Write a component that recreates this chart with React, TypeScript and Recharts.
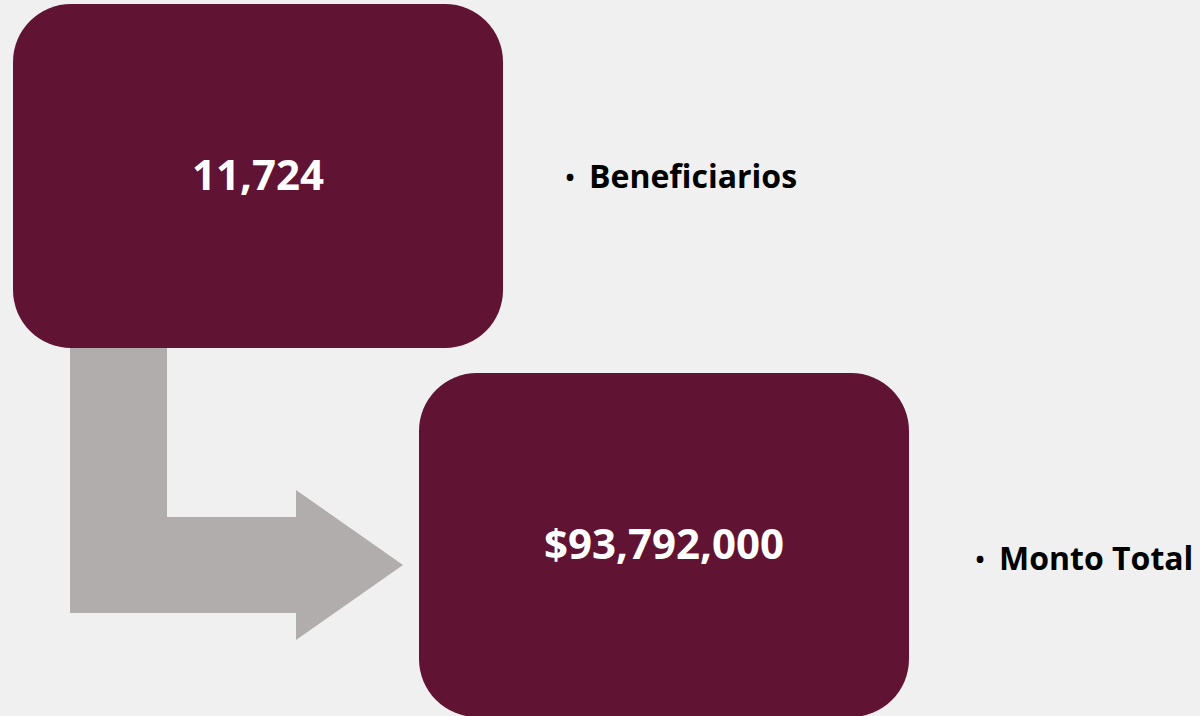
import React from "react";
import { ScatterChart, Scatter, XAxis, YAxis } from "recharts";

// ---- data ----
const labels = ["Beneficiarios", "Monto Total"];
const values = [11724, 93792000];
const prefixes = ["", "$"];
const columns = [0, 1];
const rows = [0, 1];

const data = labels.map((label, i) => ({
  label,
  value: values[i],
  prefix: prefixes[i],
  col: columns[i],
  row: rows[i],
}));

// ---- layout / style ----
const W = 1200;
const H = 716;
const BOX_W = 490;
const BOX_H = 344;
const BOX_R = 58;
const BOX_FILL = "#611333";
const ARROW_FILL = "#b0adac";
const BG = "#eff0ef";
const LABEL_GAP = [67, 71];
const LABEL_DY = [0, 13];
const FONT = "'Open Sans', 'Noto Sans', sans-serif";

const X_DOMAIN: [number, number] = [-0.6355, 2.3202];
const Y_DOMAIN: [number, number] = [-0.477, 1.4634];

const BoxShape = (props: any) => {
  const { cx, cy, payload, index } = props;
  const i = index ?? 0;
  const text = payload.prefix + payload.value.toLocaleString("en-US");
  const left = cx - BOX_W / 2;
  const top = cy - BOX_H / 2;
  const lx = cx + BOX_W / 2 + LABEL_GAP[i];
  const ly = cy + LABEL_DY[i];
  return (
    <g>
      <rect x={left} y={top} width={BOX_W} height={BOX_H} rx={BOX_R} ry={BOX_R} fill={BOX_FILL} />
      <text
        x={cx}
        y={cy - 3}
        textAnchor="middle"
        dominantBaseline="central"
        fill="#ffffff"
        fontFamily={FONT}
        fontWeight={700}
        fontSize={42}
      >
        {text}
      </text>
      <text x={lx} y={ly} textAnchor="middle" dominantBaseline="central" fill="#000" fontFamily={FONT} fontWeight={700} fontSize={24}>
        •
      </text>
      <text x={lx + 19} y={ly - 1} dominantBaseline="central" fill="#000" fontFamily={FONT} fontWeight={700} fontSize={32}>
        {payload.label}
      </text>
    </g>
  );
};

// connector arrow, anchored to the second box
const ArrowShape = (props: any) => {
  const { cx, cy, index } = props;
  if (index !== 1) return <g />;
  const boxLeft = cx - BOX_W / 2;
  const tipX = boxLeft - 16;
  const tipY = cy + 20;
  const headLen = 107;
  const headHalf = 75;
  const shaftHalf = 48;
  const baseX = tipX - headLen;
  const vLeft = tipX - 333;
  const vRight = vLeft + 97;
  const vTop = cy - 199;
  const d = [
    `M${vLeft},${vTop}`,
    `L${vRight},${vTop}`,
    `L${vRight},${tipY - shaftHalf}`,
    `L${baseX},${tipY - shaftHalf}`,
    `L${baseX},${tipY - headHalf}`,
    `L${tipX},${tipY}`,
    `L${baseX},${tipY + headHalf}`,
    `L${baseX},${tipY + shaftHalf}`,
    `L${vLeft},${tipY + shaftHalf}`,
    "Z",
  ].join(" ");
  return <path d={d} fill={ARROW_FILL} />;
};

export default function App() {
  return (
    <div style={{ position: "fixed", left: 0, top: 0, width: W, height: H, background: BG, overflow: "hidden" }}>
      <ScatterChart width={W} height={H} margin={{ top: 0, right: 0, bottom: 0, left: 0 }}>
        <XAxis type="number" dataKey="col" domain={X_DOMAIN} hide />
        <YAxis type="number" dataKey="row" domain={Y_DOMAIN} reversed hide />
        <Scatter data={data} shape={ArrowShape} isAnimationActive={false} />
        <Scatter data={data} shape={BoxShape} isAnimationActive={false} />
      </ScatterChart>
    </div>
  );
}
